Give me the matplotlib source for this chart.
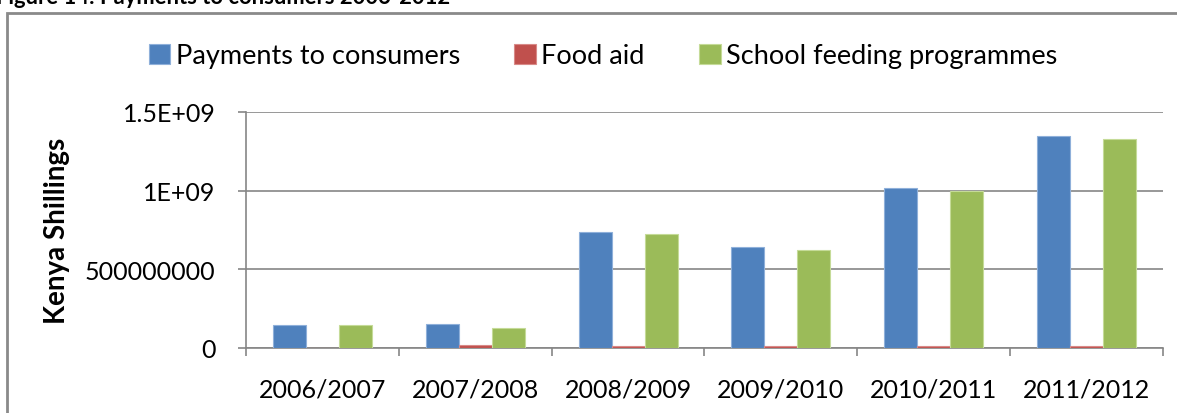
import numpy as np
import matplotlib
matplotlib.use('Agg')
import matplotlib.pyplot as plt
from matplotlib.patches import Rectangle

plt.rcParams['font.family'] = ['Lato', 'DejaVu Sans']

years = ['2006/2007', '2007/2008', '2008/2009', '2009/2010', '2010/2011', '2011/2012']
payments = [147e6, 152e6, 738e6, 643e6, 1014e6, 1347e6]
food_aid = [0, 16e6, 14e6, 14e6, 13e6, 12e6]
school_feeding = [145e6, 128e6, 725e6, 626e6, 1000e6, 1327e6]

series = [
    ('Payments to consumers', payments, '#4F81BD', '#8FB0DA'),
    ('Food aid', food_aid, '#C0504D', '#D88A88'),
    ('School feeding programmes', school_feeding, '#9BBB59', '#C5DB98'),
]
ytick_vals = [0, 5e8, 1e9, 1.5e9]
ytick_labels = ['0', '500000000', '1E+09', '1.5E+09']

W, H = 1177, 414
fig = plt.figure(figsize=(W / 100, H / 100), dpi=100)
ax = fig.add_axes([246 / W, 1 - 349 / H, (1163 - 246) / W, (349 - 113) / H])

# outer chart frame (cut off at right and bottom)
fig.patches.append(Rectangle((7 / W, -0.1), 1.2, 1.1 - 14 / H,
                             transform=fig.transFigure, fill=False,
                             edgecolor='#8a8a8a', linewidth=2))

# title, mostly cropped off at top
fig.text(-4 / W, 1 - 4 / H, 'Figure 14: Payments to consumers 2006-2012',
         fontsize=15.8, fontweight='bold', va='baseline', ha='left')

x = np.arange(len(years))
bw = 0.216
for i, (name, vals, col, edge) in enumerate(series):
    ax.bar(x + (i - 1) * bw, vals, bw, color=col, edgecolor=edge,
           linewidth=0.8, label=name, zorder=3)

ax.set_xlim(-0.5, len(years) - 0.5)
ax.set_ylim(0, 1.5e9)
ax.set_yticks(ytick_vals)
ax.set_yticklabels(ytick_labels, fontsize=18)
ax.set_xticks(x)
ax.set_xticklabels(years, fontsize=18)
ax.set_xticks(np.arange(-0.5, len(years)), minor=True)
ax.tick_params(axis='x', which='major', length=0, pad=21)
ax.tick_params(axis='x', which='minor', length=6, width=1.2, color='#868686', direction='out')
ax.tick_params(axis='y', length=6, width=1.2, color='#868686', direction='out', pad=16)

ax.grid(axis='y', color='#868686', linewidth=1.2, zorder=0)
for s in ['top', 'right']:
    ax.spines[s].set_visible(False)
for s in ['left', 'bottom']:
    ax.spines[s].set_color('#868686')
    ax.spines[s].set_linewidth(1.2)

ax.set_ylabel('Kenya Shillings', fontsize=20, fontweight='bold')
ax.yaxis.set_label_coords(-176 / (1163 - 246), 0.5)

leg = fig.legend(loc='center', bbox_to_anchor=(603 / W, 1 - 57 / H), ncol=3,
                 frameon=False, fontsize=19.5, handlelength=0.8, handleheight=0.8,
                 handletextpad=0.2, columnspacing=2.0)

fig.savefig('out.png', dpi=100)
